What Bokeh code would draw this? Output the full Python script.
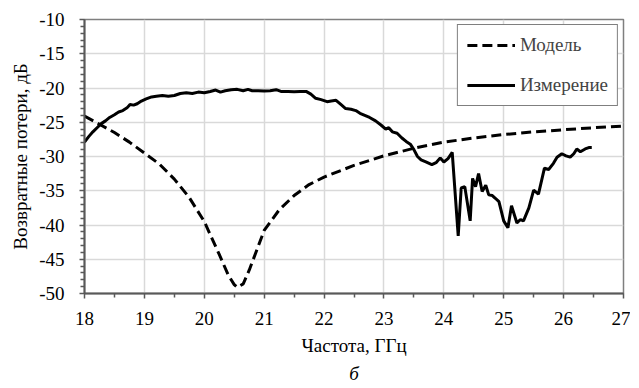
from bokeh.plotting import figure
from bokeh.models import Range1d, FixedTicker, Legend, LegendItem, Title
from bokeh.embed import file_html
from bokeh.resources import INLINE

model_f = [18.0, 18.25, 18.5, 18.75, 19.0, 19.25, 19.5, 19.75, 20.0, 20.25, 20.4, 20.5,
           20.55, 20.65, 20.75, 21.0, 21.25, 21.5, 21.75, 22.0, 22.5, 23.0, 23.5, 24.0,
           24.5, 25.0, 25.5, 26.0, 26.5, 27.0]
model_db = [-24.1, -25.3, -26.5, -27.9, -29.5, -31.1, -33.3, -36.0, -39.5, -44.3, -47.3, -48.7,
            -49.1, -48.6, -46.6, -40.8, -37.8, -35.7, -34.1, -33.0, -31.3, -29.9, -28.8, -27.9,
            -27.3, -26.8, -26.4, -26.1, -25.8, -25.55]

meas_f = [18.00, 18.07, 18.14, 18.21, 18.28, 18.35, 18.42, 18.50, 18.57, 18.64, 18.71, 18.76,
          18.82, 18.88, 18.95, 19.03, 19.12, 19.20, 19.30, 19.40, 19.50, 19.60, 19.70, 19.80,
          19.90, 20.00, 20.10, 20.19, 20.27, 20.35, 20.45, 20.55, 20.65, 20.73, 20.80, 20.90,
          21.00, 21.10, 21.20, 21.28, 21.40, 21.50, 21.60, 21.70, 21.78, 21.86, 21.95, 22.05,
          22.12, 22.20, 22.28, 22.36, 22.45, 22.53, 22.60, 22.68, 22.76, 22.86, 22.95, 23.03,
          23.08, 23.14, 23.22, 23.30, 23.37, 23.44, 23.50, 23.56, 23.62, 23.70, 23.80, 23.87,
          23.94, 24.00, 24.07, 24.14, 24.24, 24.29, 24.35, 24.44, 24.48, 24.53, 24.58, 24.64,
          24.70, 24.75, 24.81, 24.86, 24.92, 25.00, 25.07, 25.13, 25.22, 25.28, 25.33, 25.42,
          25.50, 25.58, 25.68, 25.75, 25.83, 25.89, 25.97, 26.04, 26.11, 26.17, 26.22, 26.28,
          26.36, 26.42, 26.47]
meas_db = [-27.9, -27.1, -26.4, -25.8, -25.2, -24.8, -24.3, -23.9, -23.5, -23.3, -22.9, -22.4,
           -22.5, -22.3, -21.9, -21.6, -21.3, -21.2, -21.1, -21.2, -21.1, -20.8, -20.7, -20.8,
           -20.6, -20.7, -20.5, -20.3, -20.6, -20.4, -20.25, -20.2, -20.4, -20.2, -20.4, -20.4,
           -20.45, -20.4, -20.25, -20.5, -20.5, -20.55, -20.5, -20.5, -20.9, -21.5, -21.7, -22.0,
           -21.9, -21.8, -22.4, -23.0, -23.1, -23.3, -23.7, -24.0, -24.3, -24.8, -25.4, -26.0,
           -25.8, -26.4, -26.6, -27.3, -27.8, -28.2, -29.0, -30.0, -30.5, -30.8, -31.2, -30.9,
           -30.2, -30.8, -30.3, -29.4, -41.6, -34.6, -34.4, -39.4, -33.2, -34.4, -32.5, -35.1,
           -34.2, -35.6, -35.7, -36.1, -36.6, -39.4, -40.4, -37.2, -39.7, -39.2, -39.4, -37.5,
           -34.9, -35.5, -31.7, -31.9, -31.0, -30.1, -29.6, -29.9, -30.1, -29.6, -28.9, -29.3,
           -28.9, -28.7, -28.7]

x_ticks = [18, 19, 20, 21, 22, 23, 24, 25, 26, 27]
y_ticks = [-50, -45, -40, -35, -30, -25, -20, -15, -10]
x_tick_labels = ["18", "19", "20", "21", "22", "23", "24", "25", "26", "27"]
y_tick_labels = ["-50", "-45", "-40", "-35", "-30", "-25", "-20", "-15", "-10"]

FONT = "Liberation Serif"
AX = "#595959"

p = figure(width=630, height=385, output_backend="svg", toolbar_location=None,
           x_range=Range1d(18, 27), y_range=Range1d(-50, -10),
           min_border_left=84, min_border_right=7, min_border_top=19, min_border_bottom=88)
p.background_fill_color = "white"
p.outline_line_color = "#7f7f7f"
p.outline_line_width = 1.5

p.xgrid.ticker = FixedTicker(ticks=x_ticks)
p.ygrid.ticker = FixedTicker(ticks=y_ticks)
p.grid.grid_line_color = "#d9d9d9"
p.grid.grid_line_width = 1.5

p.xaxis.ticker = FixedTicker(ticks=x_ticks, minor_ticks=[18.5 + i for i in range(9)])
p.yaxis.ticker = FixedTicker(ticks=y_ticks, minor_ticks=[v for v in range(-50, -9) if v % 5 != 0])
p.xaxis.major_label_overrides = {t: s for t, s in zip(x_ticks, x_tick_labels)}
p.yaxis.major_label_overrides = {t: s for t, s in zip(y_ticks, y_tick_labels)}

for ax in (p.xaxis[0], p.yaxis[0]):
    ax.axis_line_color = AX
    ax.axis_line_width = 2
    ax.major_tick_line_color = AX
    ax.minor_tick_line_color = AX
    ax.major_tick_line_width = 1.5
    ax.minor_tick_line_width = 1.5
    ax.major_tick_in = 0
    ax.minor_tick_in = 0
    ax.major_tick_out = 5
    ax.minor_tick_out = 4
    ax.major_label_text_font = FONT
    ax.major_label_text_font_size = "19px"
    ax.major_label_text_font_style = "normal"
    ax.major_label_text_color = "black"
    ax.axis_label_text_font = FONT
    ax.axis_label_text_font_size = "19px"
    ax.axis_label_text_font_style = "normal"
    ax.axis_label_text_color = "black"

p.xaxis.axis_label = "Частота, ГГц"
p.yaxis.axis_label = "Возвратные потери, дБ"
p.xaxis.major_label_standoff = 13
p.yaxis.major_label_standoff = 15
p.xaxis.axis_label_standoff = 7
p.yaxis.axis_label_standoff = 5

r_model = p.line(model_f, model_db, line_color="black", line_width=3, line_dash="10 5")
r_meas = p.line(meas_f, meas_db, line_color="black", line_width=3)

legend = Legend(items=[LegendItem(label="Модель", renderers=[r_model]),
                       LegendItem(label="Измерение", renderers=[r_meas])],
                location="top_right", margin=5, padding=9, spacing=18,
                glyph_width=48, glyph_height=22, label_height=22, label_standoff=5,
                label_text_font=FONT, label_text_font_size="19px",
                label_text_font_style="normal",
                border_line_color="black", border_line_width=1.2,
                background_fill_color="white", background_fill_alpha=1.0)
p.add_layout(legend)

p.add_layout(Title(text="б", align="center", text_font=FONT, text_font_size="19px",
                   text_font_style="italic", text_color="black", standoff=4,
                   text_line_height=0.9), "below")

open("out.html", "w").write(file_html(p, INLINE))
